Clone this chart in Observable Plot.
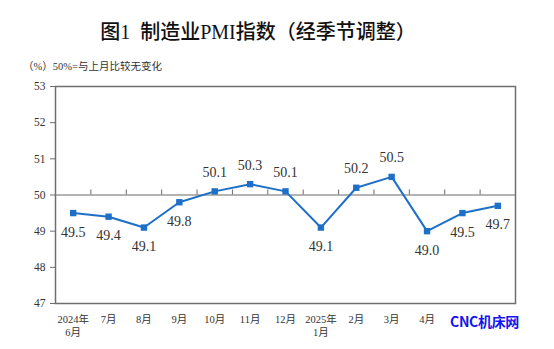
<!DOCTYPE html>
<html>
<head>
<meta charset="utf-8">
<script src="https://cdn.jsdelivr.net/npm/d3@7"></script>
<script src="https://cdn.jsdelivr.net/npm/@observablehq/plot@0.6"></script>
<style>
  html, body { margin: 0; padding: 0; background: #fff; }
  #wrap { position: relative; width: 554px; height: 349px; overflow: hidden; }
  #title { position: absolute; left: 0; width: 516px; top: 18px; text-align: center;
    font-family: "Liberation Serif", "Noto Sans CJK SC", serif; font-size: 20px; font-weight: 500; color: #111; line-height: 28px; }
  #sub { position: absolute; left: 23px; top: 60px; font-family: "Liberation Serif", "Noto Sans CJK SC", serif;
    font-size: 10.5px; color: #333; line-height: 14px; }
  #wm { position: absolute; left: 450px; top: 311px; font-family: "Noto Sans CJK SC", sans-serif;
    font-size: 14px; font-weight: 700; color: #1414ee; line-height: 20px; letter-spacing: -0.3px; }
  #chart { position: absolute; left: 0; top: 0; }
</style>
</head>
<body>
<div id="wrap">
  <div id="chart"></div>
  <div id="title">图1&nbsp;&nbsp;制造业PMI指数（经季节调整）</div>
  <div id="sub">（%）50%=与上月比较无变化</div>
  <div id="wm">CNC机床网</div>
</div>
<script>
const months = ["2024年\n6月", "7月", "8月", "9月", "10月", "11月", "12月", "2025年\n1月", "2月", "3月", "4月", "5月", "6月"];
const shownLabels = ["2024年\n6月", "7月", "8月", "9月", "10月", "11月", "12月", "2025年\n1月", "2月", "3月", "4月", "", ""];
const pmi = [49.5, 49.4, 49.1, 49.8, 50.1, 50.3, 50.1, 49.1, 50.2, 50.5, 49.0, 49.5, 49.7];
const yTicks = [47, 48, 49, 50, 51, 52, 53];
const baseline = 50;

const data = pmi.map((v, i) => ({i, v, label: shownLabels[i]}));
const boundaries = d3.range(1, months.length).map(i => i - 0.5);

const blue = "#1e6fc8";
const serif = "'Liberation Serif', 'Noto Sans CJK SC', serif";

const chart = Plot.plot({
  width: 554,
  height: 349,
  marginTop: 86,
  marginBottom: 46,
  marginLeft: 55,
  marginRight: 39,
  style: {fontFamily: serif, background: "transparent", overflow: "visible"},
  x: {type: "linear", domain: [-0.5, months.length - 0.5], axis: null},
  y: {domain: [47, 53], axis: null},
  marks: [
    Plot.ruleY([baseline], {stroke: "#6a6a6a", strokeWidth: 1.2}),
    Plot.ruleX(boundaries, {x: d => d, y1: baseline, y2: baseline, insetBottom: 5, stroke: "#6a6a6a", strokeWidth: 1}),
    Plot.frame({stroke: "#6f6f6f", strokeWidth: 1.5}),
    Plot.axisY(yTicks, {ticks: yTicks, tickSize: 5, tickPadding: 5, fontSize: 11.5, fill: "#333", stroke: "#6f6f6f", label: null, tickFormat: d => d}),
    Plot.text(data, {x: "i", text: "label", frameAnchor: "bottom", lineAnchor: "top", dy: 10, fontSize: 10.5, lineHeight: 1.25, fill: "#333", fontFamily: serif}),
    Plot.line(data, {x: "i", y: "v", stroke: blue, strokeWidth: 2}),
    Plot.dot(data, {x: "i", y: "v", symbol: "square", r: 3.6, fill: blue, stroke: null}),
    Plot.text(data, {x: "i", y: "v", text: d => d.v.toFixed(1), fontSize: 14, fill: "#333", fontFamily: serif,
      filter: d => d.v > baseline, lineAnchor: "middle", dy: -19}),
    Plot.text(data, {x: "i", y: "v", text: d => d.v.toFixed(1), fontSize: 14, fill: "#333", fontFamily: serif,
      filter: d => d.v <= baseline, lineAnchor: "middle", dy: 19})
  ]
});
document.getElementById("chart").appendChild(chart);
</script>
</body>
</html>
